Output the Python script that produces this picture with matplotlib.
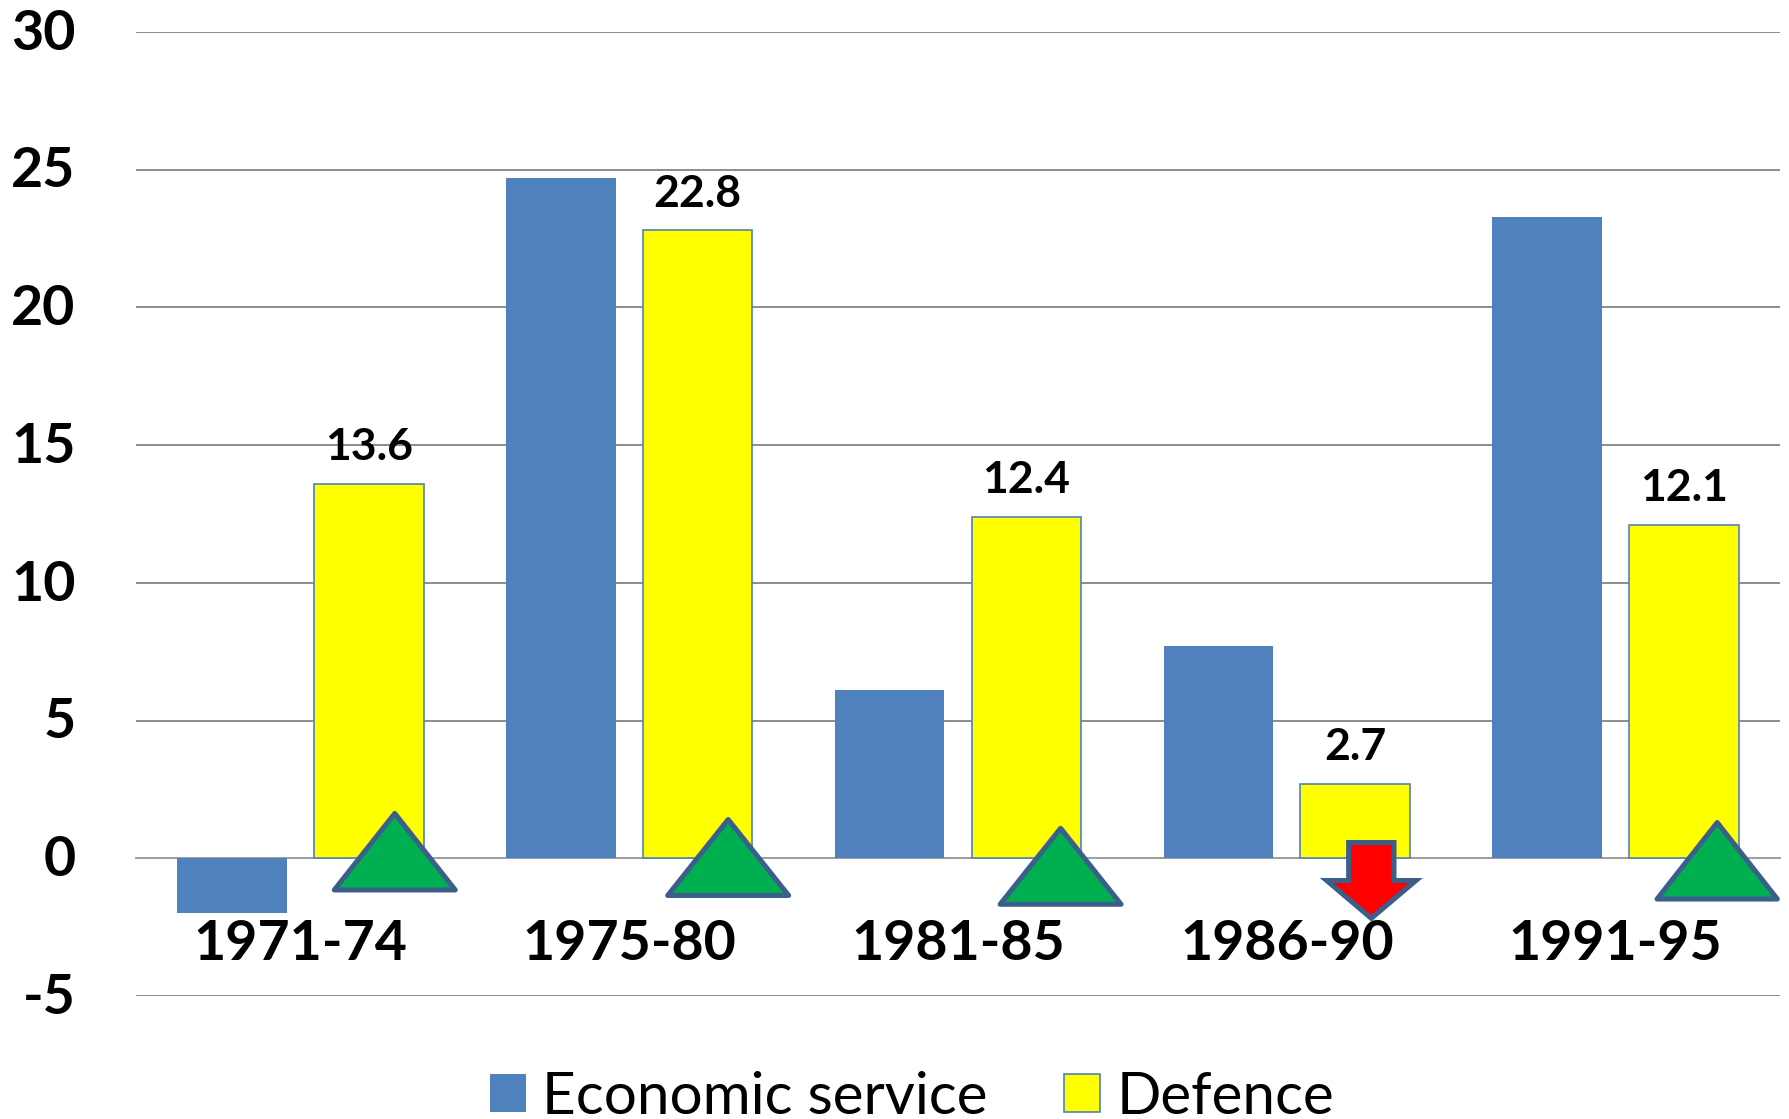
import matplotlib
matplotlib.use("Agg")
import matplotlib.pyplot as plt
from matplotlib.patches import Polygon
from matplotlib.transforms import ScaledTranslation

plt.rcParams["font.family"] = ["Lato", "DejaVu Sans"]
plt.rcParams["axes.unicode_minus"] = False

periods = ["1971-74", "1975-80", "1981-85", "1986-90", "1991-95"]
economic = [-2.0, 24.7, 6.1, 7.7, 23.3]
defence = [13.6, 22.8, 12.4, 2.7, 12.1]
yticks = [-5, 0, 5, 10, 15, 20, 25, 30]

# up triangles drawn over the defence bars (centre x, apex y, base y, half width)
tri_x = [0.287, 1.301, 2.312, 4.309]
tri_top = [1.63, 1.41, 1.09, 1.30]
tri_base = [-1.15, -1.35, -1.67, -1.48]
tri_half = [0.184, 0.184, 0.184, 0.183]

# down arrow for 1986-90
arrow_x = 3.257
arrow_top, arrow_neck, arrow_tip = 0.574, -0.806, -2.18
arrow_shaft, arrow_head = 0.069, 0.136

C_ECON, C_DEF, C_EDGE = "#4F81BD", "#FFFF00", "#4F81BD"
C_OUT, C_UP, C_DOWN = "#3A5F8B", "#00B050", "#FF0000"
W, H = 1789, 1119

fig = plt.figure(figsize=(W / 100, H / 100), dpi=100)
ax = fig.add_axes([136 / W, 1 - 996 / H, (1780 - 136) / W, (996 - 32) / H])

x = list(range(len(periods)))
off, bw = 0.208, 0.333
ax.bar([i - off for i in x], economic, bw, color=C_ECON, label="Economic service", zorder=3)
bars = ax.bar([i + off for i in x], defence, bw, color=C_DEF, edgecolor=C_EDGE, lw=1.2,
              label="Defence", zorder=3)
for b, v in zip(bars, defence):
    ax.annotate(f"{v}", (b.get_x() + b.get_width() / 2, v), xytext=(0, 17),
                textcoords="offset points", ha="center", va="baseline",
                fontsize=32, fontweight="bold", zorder=6)

for cx, top, base, hw in zip(tri_x, tri_top, tri_base, tri_half):
    ax.add_patch(Polygon([(cx, top), (cx + hw, base), (cx - hw, base)], closed=True,
                         fc=C_UP, ec=C_OUT, lw=3.6, joinstyle="round", zorder=5,
                         clip_on=False))
ax.add_patch(Polygon([(arrow_x - arrow_shaft, arrow_top), (arrow_x + arrow_shaft, arrow_top),
                      (arrow_x + arrow_shaft, arrow_neck), (arrow_x + arrow_head, arrow_neck),
                      (arrow_x, arrow_tip), (arrow_x - arrow_head, arrow_neck),
                      (arrow_x - arrow_shaft, arrow_neck)], closed=True,
                     fc=C_DOWN, ec=C_OUT, lw=3.6, joinstyle="miter", zorder=5))

ax.set_xlim(-0.5, 4.5)
ax.set_ylim(-5, 30)
ax.set_yticks(yticks)
ax.set_xticks(x, periods)
ax.yaxis.grid(True, color="#8C8C8C", lw=1.4, zorder=0)
ax.set_axisbelow(True)
for s in ("top", "right", "left"):
    ax.spines[s].set_visible(False)
ax.spines["bottom"].set_position(("data", 0))
ax.spines["bottom"].set_color("#A0A0A0")
ax.spines["bottom"].set_linewidth(1.4)
ax.tick_params(axis="y", length=0, pad=43.5, labelsize=40)
ax.tick_params(axis="x", length=0, pad=44, labelsize=40)
nudge = ScaledTranslation(0, 2 / 72, fig.dpi_scale_trans)
for t in ax.get_yticklabels():
    t.set_fontweight("bold")
    t.set_transform(t.get_transform() + nudge)
for t in ax.get_xticklabels():
    t.set_fontweight("bold")

fig.legend(loc="center", bbox_to_anchor=(912 / W, 1 - 1097 / H), ncol=2, frameon=False,
           fontsize=42, handlelength=0.62, handleheight=0.62, handletextpad=0.28,
           columnspacing=1.3, borderpad=0, borderaxespad=0)

fig.savefig("out.png", dpi=100)
